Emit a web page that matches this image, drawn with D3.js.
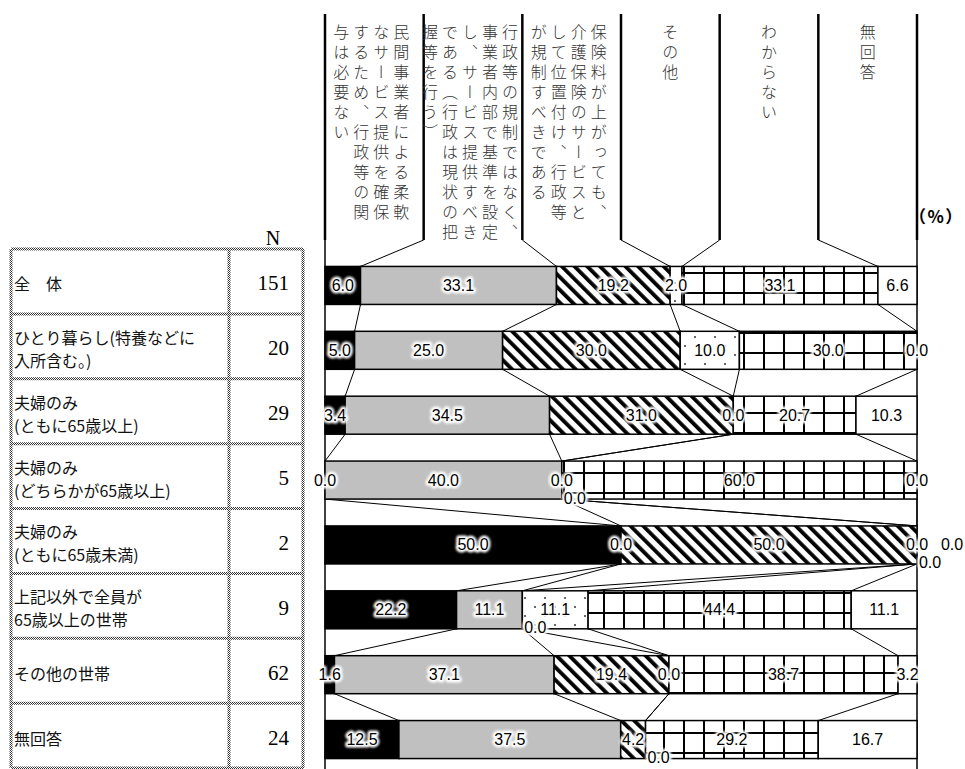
<!DOCTYPE html>
<html>
<head>
<meta charset="utf-8">
<script src="https://cdn.jsdelivr.net/npm/d3@7"></script>
<style>
body { margin: 0; background: #fff; }
svg { display: block; }
</style>
</head>
<body>
<svg id="svg" width="965" height="769"></svg>
<script>
const $svg = d3.select('#svg')

// row categories (table on the left) and their N
const categories = ['全　体', 'ひとり暮らし(特養などに\n入所含む。)', '夫婦のみ\n(ともに65歳以上)', '夫婦のみ\n(どちらかが65歳以上)',
	'夫婦のみ\n(ともに65歳未満)', '上記以外で全員が\n65歳以上の世帯', 'その他の世帯', '無回答']
const counts = [151, 20, 29, 5, 2, 9, 62, 24]

// header texts, one entry per vertical column of characters (right to left)
const seriesHeaders = [
	['民間事業者による柔軟', 'なサービス提供を確保', 'するため、行政等の関', '与は必要ない'],
	['行政等の規制ではなく、', '事業者内部で基準を設定', 'し、サービス提供すべき', 'である（行政は現状の把', '握等を行う）'],
	['保険料が上がっても、', '介護保険のサービスと', 'して位置付け、行政等', 'が規制すべきである'],
	['その他'],
	['わからない'],
	['無回答'],
]

// percentages per series, in row order
const minkan = [6.0, 5.0, 3.4, 0.0, 50.0, 22.2, 1.6, 12.5]
const jigyosha = [33.1, 25.0, 34.5, 40.0, 0.0, 11.1, 37.1, 37.5]
const hokenryo = [19.2, 30.0, 31.0, 0.0, 50.0, 0.0, 19.4, 4.2]
const sonota = [2.0, 10.0, 0.0, 0.0, 0.0, 11.1, 0.0, 0.0]
const wakaranai = [33.1, 30.0, 20.7, 60.0, 0.0, 44.4, 38.7, 29.2]
const mukaito = [6.6, 0.0, 10.3, 0.0, 0.0, 11.1, 3.2, 16.7]

const seriesKeys = ['s1', 's2', 's3', 's4', 's5', 's6']
const seriesValues = [minkan, jigyosha, hokenryo, sonota, wakaranai, mukaito]

const rows = categories.map((c, i) => {
	const row = { cat: c }
	seriesKeys.forEach((k, j) => { row[k] = seriesValues[j][i] })
	return row
})

const stack = d3.stack().keys(seriesKeys).offset(d3.stackOffsetExpand)(rows)

const left = 325, right = 917
const barH = 38
const x = d3.scaleLinear().domain([0, 1]).range([left, right])
const y = d3.scaleBand().domain(categories).range([253, 772])
const xHead = d3.scaleBand().domain(seriesKeys).range([left, right])
const headTop = 14, headBottom = 240
const barTop = c => y(c) + (y.step() - barH) / 2

// ---- defs: fills and halo
const defs = $svg.append('defs')

const stripe = defs.append('pattern').attr('id', 'stripe')
	.attr('patternUnits', 'userSpaceOnUse').attr('width', 9).attr('height', 9)
	.attr('patternTransform', 'rotate(-45)')
stripe.append('rect').attr('width', 9).attr('height', 9).attr('fill', '#fff')
stripe.append('rect').attr('width', 3.8).attr('height', 9).attr('fill', '#000')

const dots = defs.append('pattern').attr('id', 'dots')
	.attr('patternUnits', 'userSpaceOnUse').attr('width', 20).attr('height', 18)
dots.append('rect').attr('width', 20).attr('height', 18).attr('fill', '#fff')
dots.append('circle').attr('cx', 5).attr('cy', 4).attr('r', 1.1).attr('fill', '#444')
dots.append('circle').attr('cx', 15).attr('cy', 13).attr('r', 1.1).attr('fill', '#444')

const grid = defs.append('pattern').attr('id', 'grid')
	.attr('patternUnits', 'userSpaceOnUse').attr('width', 20).attr('height', 20)
	.attr('x', 3).attr('y', 12)
grid.append('rect').attr('width', 20).attr('height', 20).attr('fill', '#fff')
grid.append('rect').attr('width', 2).attr('height', 20).attr('fill', '#000')
grid.append('rect').attr('width', 20).attr('height', 2).attr('fill', '#000')

const checker = defs.append('pattern').attr('id', 'checker')
	.attr('patternUnits', 'userSpaceOnUse').attr('width', 2).attr('height', 2)
checker.append('rect').attr('width', 2).attr('height', 2).attr('fill', '#fff')
checker.append('rect').attr('width', 1).attr('height', 1).attr('fill', '#333')
checker.append('rect').attr('x', 1).attr('y', 1).attr('width', 1).attr('height', 1).attr('fill', '#333')

defs.append('filter').attr('id', 'soft')
	.append('feGaussianBlur').attr('stdDeviation', 0.9)

const fills = ['#000', '#c0c0c0', 'url(#stripe)', 'url(#dots)', 'url(#grid)', '#fff']

// ---- left table
const tableL = 11, tableMid = 229, tableR = 303
const rowTop = c => y(c) - 4
const $table = $svg.append('g')
const hLines = categories.map(rowTop).concat([rowTop(categories[categories.length - 1]) + y.step()])
$table.selectAll('line.h').data(hLines).join('line')
	.attr('x1', tableL).attr('x2', tableR).attr('y1', d => d).attr('y2', d => d)
	.attr('stroke', 'url(#checker)').attr('stroke-width', 3)
$table.selectAll('line.v').data([tableL, tableMid, tableR]).join('line')
	.attr('x1', d => d).attr('x2', d => d).attr('y1', hLines[0]).attr('y2', hLines[hLines.length - 1])
	.attr('stroke', 'url(#checker)').attr('stroke-width', 3)

categories.forEach(c => {
	const lines = c.split('\n')
	const cy = rowTop(c) + y.step() / 2 + 2
	lines.forEach((ln, i) => {
		$table.append('text').attr('x', 14)
			.attr('y', cy + (i - (lines.length - 1) / 2) * 23)
			.attr('dominant-baseline', 'central')
			.attr('font-family', '"Noto Sans CJK JP", sans-serif').attr('font-size', 16)
			.attr('fill', '#111')
			.text(ln)
	})
})

$table.selectAll('text.n').data(counts).join('text')
	.attr('x', 289).attr('y', (d, i) => rowTop(categories[i]) + y.step() / 2 + 2)
	.attr('text-anchor', 'end').attr('dominant-baseline', 'central')
	.attr('font-family', '"Liberation Serif", serif').attr('font-size', 21)
	.text(d => d)

$svg.append('text').attr('x', 273).attr('y', 245).attr('text-anchor', 'middle')
	.attr('font-family', '"Liberation Serif", serif').attr('font-size', 20).text('N')

// ---- header
const $head = $svg.append('g')
const edges = seriesKeys.map(k => xHead(k)).concat([right])
$head.selectAll('line').data(edges).join('line')
	.attr('x1', d => d).attr('x2', d => d).attr('y1', headTop).attr('y2', headBottom)
	.attr('stroke', '#000').attr('stroke-width', 2.5)

seriesHeaders.forEach((lines, j) => {
	const cx = xHead(seriesKeys[j]) + xHead.bandwidth() / 2 - (lines.length > 1 ? 3 : 0)
	lines.forEach((ln, i) => {
		$head.append('text')
			.attr('x', cx + ((lines.length - 1) / 2 - i) * 20)
			.attr('y', 24)
			.style('writing-mode', 'vertical-rl')
			.attr('font-family', '"Noto Sans CJK JP", sans-serif').attr('font-size', 16)
			.attr('font-weight', 300)
			.attr('letter-spacing', 4).attr('fill', '#333')
			.text(ln)
	})
})

$svg.append('text').attr('x', 909).attr('y', 223)
	.attr('font-family', '"Noto Sans CJK JP", sans-serif').attr('font-size', 17).attr('font-weight', 'bold')
	.attr('letter-spacing', 1.5)
	.text('（%）')

// ---- axis lines
$svg.selectAll('line.axis').data([left, right]).join('line')
	.attr('x1', d => d).attr('x2', d => d).attr('y1', headBottom).attr('y2', 769)
	.attr('stroke', '#000').attr('stroke-width', 1.5)

// ---- connector lines
const $conn = $svg.append('g').attr('stroke', '#000').attr('stroke-width', 1)
seriesKeys.slice(0, 5).forEach((k, j) => {
	$conn.append('line')
		.attr('x1', edges[j + 1]).attr('y1', headBottom)
		.attr('x2', x(stack[j][0][1])).attr('y2', barTop(categories[0]))
	for (let i = 0; i < categories.length - 1; i++) {
		$conn.append('line')
			.attr('x1', x(stack[j][i][1])).attr('y1', barTop(categories[i]) + barH)
			.attr('x2', x(stack[j][i + 1][1])).attr('y2', barTop(categories[i + 1]))
	}
})

// ---- bars
const $bars = $svg.append('g')
stack.forEach((s, j) => {
	$bars.append('g').selectAll('rect').data(s.filter(d => d[1] - d[0] > 0)).join('rect')
		.attr('x', d => x(d[0])).attr('width', d => x(d[1]) - x(d[0]))
		.attr('y', d => barTop(d.data.cat)).attr('height', barH)
		.attr('fill', fills[j]).attr('stroke', '#000').attr('stroke-width', 1.5)
})

// ---- value labels (zero labels nudged when they would collide)
const labels = []
const nudges = [[0, 0], [13, 18], [35, 0]]
categories.forEach((c, i) => {
	const placed = []
	const cy = barTop(c) + barH / 2
	stack.forEach((s, j) => {
		const v = seriesValues[j][i]
		const txt = v.toFixed(1)
		const cx = x((s[i][0] + s[i][1]) / 2)
		const w = txt.length * 8 + 8
		let pos = [cx, cy]
		if (v === 0) {
			for (const [dx, dy] of nudges) {
				const px = cx + dx, py = cy + dy
				const hit = placed.some(p => Math.abs(p.x - px) < (p.w + w) / 2 && Math.abs(p.y - py) < 14)
				if (!hit) { pos = [px, py]; break }
			}
		}
		placed.push({ x: pos[0], y: pos[1], w })
		labels.push({ x: pos[0], y: pos[1], txt })
	})
})

const $labels = $svg.append('g')
	.attr('font-family', '"Liberation Sans", Arial, sans-serif').attr('font-size', 16)
	.attr('text-anchor', 'middle').attr('dominant-baseline', 'central')
$labels.append('g').attr('filter', 'url(#soft)')
	.selectAll('text').data(labels).join('text')
	.attr('x', d => d.x).attr('y', d => d.y)
	.attr('fill', '#fff').attr('stroke', '#fff').attr('stroke-width', 5).attr('stroke-linejoin', 'round')
	.text(d => d.txt)
$labels.append('g')
	.selectAll('text').data(labels).join('text')
	.attr('x', d => d.x).attr('y', d => d.y).attr('fill', '#000')
	.text(d => d.txt)
</script>
</body>
</html>
